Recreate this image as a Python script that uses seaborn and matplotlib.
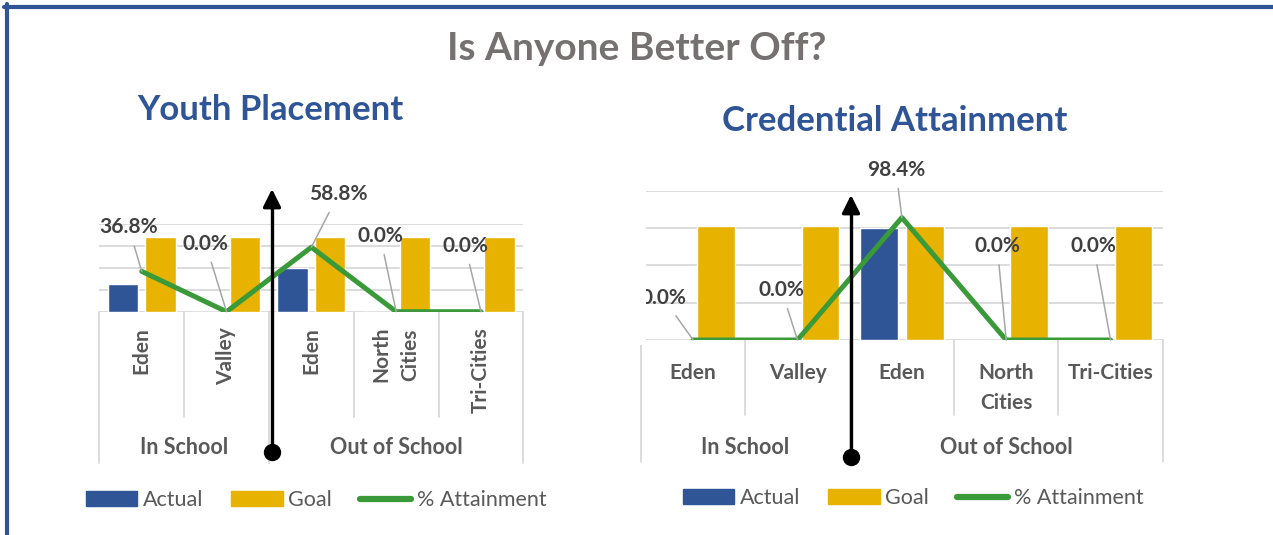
import pandas as pd
import matplotlib.pyplot as plt
import seaborn as sns
from matplotlib.lines import Line2D
from matplotlib.patches import Rectangle
from matplotlib.transforms import blended_transform_factory

# ===========================
# Data
# ===========================
categories = ["Eden", "Valley", "Eden", "North\nCities", "Tri-Cities"]
groups = ["In School", "Out of School"]
group_sizes = [2, 3]

placement_actual = [2.5, 0, 4.0, 0, 0]
placement_goal = [6.8, 6.8, 6.8, 6.8, 6.8]
placement_pct = [0.368, 0.0, 0.588, 0.0, 0.0]

credential_actual = [0, 0, 60, 0, 0]
credential_goal = [61, 61, 61, 61, 61]
credential_pct = [0.0, 0.0, 0.984, 0.0, 0.0]

# label offsets (pixels) for the % labels
placement_offsets = [(-13, 44), (-21, 68), (27, 53), (-16, 76), (-16, 66)]
credential_offsets = [(-30, 42), (-16, 50), (-6, 48), (-9, 94), (-17, 94)]

BLUE = "#2F5597"
GOLD = "#E8B200"
GREEN = "#3A9A3A"
GRID = "#D9D9D9"
TXT = "#595959"

sns.set_theme(style="white")
plt.rcParams['font.family'] = ['Lato', 'DejaVu Sans']

W, H = 1273, 535
fig = plt.figure(figsize=(W / 100, H / 100), dpi=100)


def fx(x):
    return x / W


def fy(y):
    return 1 - y / H


def combo(ax, actual, goal, pct, ymax, ystep, pmax, offsets):
    pos = list(range(len(categories)))
    df = pd.DataFrame({
        "pos": pos * 2,
        "value": actual + goal,
        "series": ["Actual"] * len(pos) + ["Goal"] * len(pos),
    })
    sns.barplot(data=df, x="pos", y="value", hue="series",
                palette={"Actual": BLUE, "Goal": GOLD}, saturation=1,
                width=0.88, gap=0.18, errorbar=None, legend=False, ax=ax)
    ax.set_xlim(-0.5, len(pos) - 0.5)
    ax.set_ylim(0, ymax)
    ax.set_yticks([ystep * k for k in range(int(ymax / ystep) + 1)])
    ax.yaxis.grid(True, color=GRID, lw=1.3)
    ax.set_axisbelow(True)
    ax.set_xlabel("")
    ax.set_ylabel("")
    sns.despine(ax=ax, left=True, bottom=True)

    ax2 = ax.twinx()
    sns.lineplot(x=pos, y=pct, ax=ax2, color=GREEN, lw=3.6, sort=False,
                 solid_capstyle="round", legend=False)
    ax2.set_ylim(0, pmax)
    ax2.set_xlim(-0.5, len(pos) - 0.5)
    ax2.axis("off")
    # twinx turns the left ticks back on
    ax.tick_params(left=False, right=False, bottom=False,
                   labelleft=False, labelright=False, labelbottom=False)
    for i, (p, off) in enumerate(zip(pct, offsets)):
        ax2.annotate(f"{p * 100:.1f}%", xy=(i, p), xytext=off,
                     textcoords="offset pixels", ha="center", va="center",
                     fontsize=15, fontweight="bold", color="#404040",
                     arrowprops=dict(arrowstyle="-", color="#A6A6A6", lw=1.1,
                                     shrinkA=4, shrinkB=0))
    return ax2


def category_axis(ax, base, row1, row2, rotated, lab_y, grp_y):
    tr = blended_transform_factory(ax.transData, fig.transFigure)
    n = len(categories)
    bounds = [-0.5]
    for s in group_sizes:
        bounds.append(bounds[-1] + s)
    for b in [k - 0.5 for k in range(n + 1)]:
        bottom = row2 if b in bounds else row1
        ax.add_artist(Line2D([b, b], [fy(base), fy(bottom)], transform=tr,
                             color=GRID, lw=1.3, clip_on=False))
    for i, lab in enumerate(categories):
        if rotated:
            ax.text(i, fy(lab_y), lab, transform=tr, rotation=90, ha="center",
                    va="top", multialignment="center", fontsize=15,
                    fontweight="bold", color=TXT, linespacing=1.55)
        else:
            ax.text(i, fy(lab_y), lab, transform=tr, ha="center", va="top",
                    fontsize=15, fontweight="bold", color=TXT, linespacing=1.6)
    for g, lo, hi in zip(groups, bounds[:-1], bounds[1:]):
        ax.text((lo + hi) / 2, fy(grp_y), g, transform=tr, ha="center",
                va="center", fontsize=15.5, fontweight="bold", color=TXT)


# ===========================
# Youth Placement
# ===========================
ax_l = fig.add_axes([fx(99.3), fy(311.7), (523.4 - 99.3) / W, (311.7 - 224) / H])
combo(ax_l, placement_actual, placement_goal, placement_pct, 8, 2, 0.8, placement_offsets)
category_axis(ax_l, 311.7, 417, 463, True, 327, 448)

# ===========================
# Credential Attainment
# ===========================
ax_r = fig.add_axes([fx(641), fy(340), (1162.7 - 641) / W, (340 - 190.7) / H])
combo(ax_r, credential_actual, credential_goal, credential_pct, 80, 20, 1.2, credential_offsets)
category_axis(ax_r, 340, 415, 462, False, 363, 447)

# the right chart is cropped on its left edge in the source
fig.add_artist(Rectangle((fx(590), fy(345)), (646 - 590) / W, (345 - 150) / H,
                         transform=fig.transFigure, facecolor="white",
                         edgecolor="none", zorder=5))

# ===========================
# Titles
# ===========================
fig.text(fx(637), fy(48), "Is Anyone Better Off?", ha="center", va="center",
         fontsize=28, fontweight="bold", color="#767171")
fig.text(fx(270), fy(110), "Youth Placement", ha="center", va="center",
         fontsize=25, fontweight="bold", color=BLUE)
fig.text(fx(895), fy(121), "Credential Attainment", ha="center", va="center",
         fontsize=25, fontweight="bold", color=BLUE)

# ===========================
# Arrows
# ===========================
for x, top, dot in [(272, 189, 452), (851, 195, 457)]:
    fig.add_artist(Line2D([fx(x), fx(x)], [fy(dot), fy(top + 12)],
                          transform=fig.transFigure, color="black", lw=2.4, zorder=6))
    ann = plt.annotate("", xy=(x, H - top), xytext=(x, H - top - 14),
                       xycoords="figure pixels", textcoords="figure pixels",
                       arrowprops=dict(arrowstyle="-|>,head_length=1.0,head_width=0.5",
                                       mutation_scale=10.8, color="black", lw=2.4,
                                       shrinkA=0, shrinkB=0))
    ann.set_zorder(7)
    fig.add_artist(Line2D([fx(x)], [fy(dot)], transform=fig.transFigure, marker="o",
                          markersize=11.5, color="black", zorder=7))

# ===========================
# Legends
# ===========================
handles = [Rectangle((0, 0), 1, 1, color=BLUE), Rectangle((0, 0), 1, 1, color=GOLD),
           Line2D([0], [0], color=GREEN, lw=4.5, solid_capstyle="round")]
names = ["Actual", "Goal", "% Attainment"]
for cx, cy in [(316, 500), (913, 498)]:
    leg = fig.legend(handles, names, loc="center", bbox_to_anchor=(fx(cx), fy(cy)),
                     ncol=3, frameon=False, fontsize=15.5, handlelength=2.4,
                     handleheight=0.65, handletextpad=0.25, columnspacing=1.3)
    for t in leg.get_texts():
        t.set_color(TXT)

# ===========================
# Frame
# ===========================
fig.add_artist(Line2D([fx(4), fx(W)], [fy(6.5), fy(6.5)], transform=fig.transFigure,
                      color=BLUE, lw=3))
fig.add_artist(Line2D([fx(6.5), fx(6.5)], [fy(4), fy(H)], transform=fig.transFigure,
                      color=BLUE, lw=3))

fig.savefig("out.png", dpi=100)
